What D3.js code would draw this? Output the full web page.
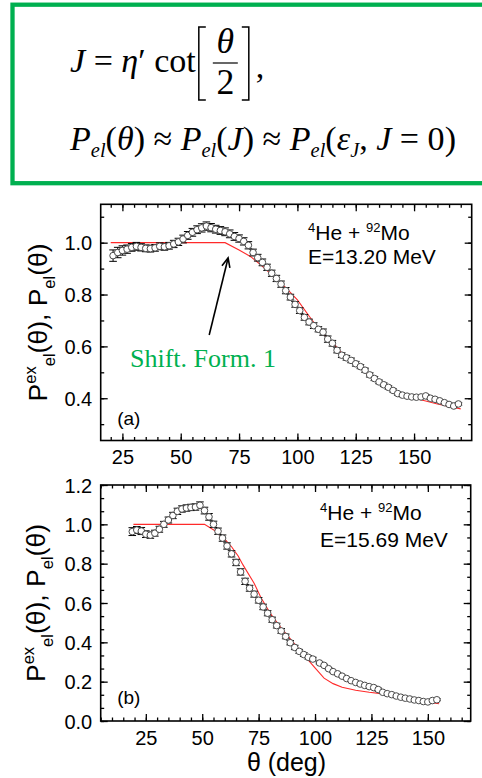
<!DOCTYPE html>
<html><head><meta charset="utf-8">
<script src="https://cdn.jsdelivr.net/npm/d3@7"></script>
<style>body{margin:0;background:#fff}svg{display:block}</style>
</head><body>
<svg id="c" width="482" height="778"></svg>
<script>
// ---------- DATA ----------
// Panel (a): 4He + 92Mo, E = 13.20 MeV
const thetaA = [21,23,25,27,29,31,33,35,37,39,41,43,45,47,49,51,53,55,57,59,61,63,65,67,69,71,73,75,77,79,81,83,85,87,89,91,93,95,97,99,101,103,105,107,109,111,113,115,117,119,121,123,125,127,129,131,133,135,137,139,141,143,145,147,149,151,153,155,157,159,161,163,165,167,169];
const expA = [0.950,0.962,0.970,0.975,0.982,0.986,0.982,0.978,0.977,0.980,
  0.986,0.984,0.988,0.995,1.003,1.014,1.028,1.040,1.050,1.057,
  1.064,1.058,1.052,1.047,1.042,1.034,1.024,1.016,1.005,0.990,
  0.962,0.942,0.924,0.905,0.882,0.862,0.840,0.815,0.790,0.762,
  0.738,0.712,0.694,0.680,0.666,0.655,0.628,0.612,0.585,0.566,
  0.556,0.546,0.533,0.522,0.508,0.490,0.476,0.463,0.452,0.442,
  0.430,0.418,0.412,0.408,0.405,0.404,0.405,0.409,0.400,0.396,
  0.390,0.383,0.376,0.370,0.378];
const errA = [0.022,0.020,0.018,0.016,0.015,0.015,0.014,0.013,0.013,0.013,
  0.013,0.013,0.013,0.014,0.014,0.015,0.015,0.015,0.015,0.016,
  0.016,0.016,0.015,0.015,0.015,0.015,0.015,0.014,0.014,0.014,
  0.013,0.013,0.013,0.012,0.012,0.012,0.012,0.012,0.011,0.011,
  0.011,0.011,0.011,0.011,0.010,0.012,0.012,0.011,0.010,0.009,
  0.009,0.009,0.009,0.008,0.008,0.008,0.008,0.007,0.007,0.007,
  0.006,0.006,0.006,0.005,0.005,0.005,0.005,0.005,0.005,0.005,
  0.005,0.005,0.005,0.005,0.005];
const thetaThA = [20,69,75,80,85,90,95,100,105,110,115,120,125,130,135,140,145,150,155,160,165,170];
const theoryA = [1.0,1.0,0.972,0.946,0.909,0.868,0.827,0.779,0.717,0.657,0.615,0.564,0.530,0.494,0.460,0.433,0.414,0.400,0.389,0.378,0.368,0.359];

// Panel (b): 4He + 92Mo, E = 15.69 MeV
const thetaB = [19,21,23,25,27,29,31,33,35,37,39,41,43,45,47,49,51,53,55,57,59,61,63,65,67,69,71,73,75,77,79,81,83,85,87,89,91,93,95,97,99,
  102,104,106,108,110,112,114,116,118,120,122,124,126,128,130,132,134,136,138,140,142,144,146,148,150,152,154];
const expB = [0.963,0.971,0.966,0.950,0.945,0.955,0.975,1.000,1.022,1.045,
  1.066,1.078,1.083,1.086,1.088,1.097,1.070,1.038,1.000,0.965,
  0.930,0.890,0.850,0.806,0.758,0.710,0.675,0.645,0.614,0.580,
  0.548,0.515,0.485,0.458,0.430,0.398,0.374,0.354,0.338,0.324,0.315,
  0.295,0.283,0.266,0.251,0.240,0.228,0.216,0.205,0.196,0.188,
  0.181,0.175,0.170,0.160,0.146,0.139,0.134,0.127,0.121,0.116,
  0.112,0.107,0.104,0.099,0.097,0.104,0.108];
const errB = [0.020,0.018,0.018,0.017,0.016,0.015,0.015,0.015,0.015,0.016,
  0.016,0.016,0.016,0.016,0.016,0.017,0.017,0.017,0.016,0.016,
  0.016,0.016,0.016,0.016,0.016,0.016,0.015,0.015,0.014,0.014,
  0.013,0.013,0.012,0.012,0.012,0.011,0.011,0.010,0.010,0.009,0.009,
  0.005,0.005,0.005,0.005,0.005,0.005,0.005,0.005,0.005,0.005,
  0.005,0.006,0.007,0.007,0.006,0.005,0.005,0.005,0.005,0.005,
  0.005,0.005,0.005,0.005,0.005,0.005,0.005];
const thetaThB = [19.5,51,56,60,63,66,68,73,76,80,85,90,95,100,104,108,112,118,124,130,135,140,145,150,155];
const theoryB = [1.0,1.0,0.965,0.925,0.886,0.838,0.795,0.700,0.628,0.550,0.472,0.405,0.336,0.270,0.218,0.190,0.172,0.156,0.146,0.138,0.126,0.113,0.103,0.095,0.088];

// Tick labels
const xTicks = [25,50,75,100,125,150];
const yTicksA = [0.4,0.6,0.8,1.0];
const yTicksB = [0.0,0.2,0.4,0.6,0.8,1.0,1.2];

// Annotation anchor points (data coords) for the arrow in panel (a)
const arrowTail = [62.2, 0.644];
const arrowTip = [70.3, 0.941];

// ---------- DRAW ----------
const SANS = "'Liberation Sans', Arial, Helvetica, sans-serif";
const SERIF = "'Liberation Serif', 'Times New Roman', serif";
const GREEN = "#00B050";
const svg = d3.select('#c');

function panel(cfg) {
  const g = svg.append('g');
  const x = d3.scaleLinear().domain(cfg.xDomain).range([cfg.left, cfg.right]);
  const y = d3.scaleLinear().domain(cfg.yDomain).range([cfg.bottom, cfg.top]);

  function styleAxis(sel) {
    sel.select('.domain').remove();
    sel.selectAll('.tick line').attr('stroke', '#000').attr('stroke-width', 1.3);
    sel.selectAll('text').attr('font-family', SANS).attr('font-size', 20).attr('fill', '#000');
  }
  // bottom
  g.append('g').attr('transform', `translate(0,${cfg.bottom})`)
    .call(d3.axisBottom(x).tickValues(cfg.xMinor).tickSize(-3.5).tickFormat('')).call(styleAxis);
  const bx = g.append('g').attr('transform', `translate(0,${cfg.bottom})`)
    .call(d3.axisBottom(x).tickValues(xTicks).tickSize(-7).tickFormat(d3.format('d'))).call(styleAxis);
  bx.selectAll('text').attr('y', 23.8).attr('dy', 0);
  // top
  g.append('g').attr('transform', `translate(0,${cfg.top})`)
    .call(d3.axisTop(x).tickValues(cfg.xMinor).tickSize(-3.5).tickFormat('')).call(styleAxis);
  g.append('g').attr('transform', `translate(0,${cfg.top})`)
    .call(d3.axisTop(x).tickValues(xTicks).tickSize(-7).tickFormat('')).call(styleAxis);
  // left
  g.append('g').attr('transform', `translate(${cfg.left},0)`)
    .call(d3.axisLeft(y).tickValues(cfg.yMinor).tickSize(-3.5).tickFormat('')).call(styleAxis);
  const ly = g.append('g').attr('transform', `translate(${cfg.left},0)`)
    .call(d3.axisLeft(y).tickValues(cfg.yMajor).tickSize(-7).tickFormat(d3.format('.1f'))).call(styleAxis);
  ly.selectAll('text').attr('x', -8.5).attr('dy', '0.36em');
  // right
  g.append('g').attr('transform', `translate(${cfg.right},0)`)
    .call(d3.axisRight(y).tickValues(cfg.yMinor).tickSize(-3.5).tickFormat('')).call(styleAxis);
  g.append('g').attr('transform', `translate(${cfg.right},0)`)
    .call(d3.axisRight(y).tickValues(cfg.yMajor).tickSize(-7).tickFormat('')).call(styleAxis);

  // frame
  g.append('rect').attr('x', cfg.left).attr('y', cfg.top)
    .attr('width', cfg.right - cfg.left).attr('height', cfg.bottom - cfg.top)
    .attr('fill', 'none').attr('stroke', '#000').attr('stroke-width', 1.6);

  // theory line
  const line = d3.line().x((d, i) => x(cfg.thTheta[i])).y(d => y(d));
  g.append('path').datum(cfg.theory).attr('d', line)
    .attr('fill', 'none').attr('stroke', '#ff2a2a').attr('stroke-width', 1.1);

  // error bars
  const pts = cfg.theta.map((t, i) => ({t, v: cfg.exp[i], e: cfg.err[i]}));
  const eb = g.append('g').attr('stroke', '#000').attr('stroke-width', 1);
  pts.forEach(p => {
    const cx = x(p.t), y1 = y(p.v - p.e), y2 = y(p.v + p.e);
    eb.append('line').attr('x1', cx).attr('x2', cx).attr('y1', y1).attr('y2', y2);
    eb.append('line').attr('x1', cx - 3.8).attr('x2', cx + 3.8).attr('y1', y1).attr('y2', y1);
    eb.append('line').attr('x1', cx - 3.8).attr('x2', cx + 3.8).attr('y1', y2).attr('y2', y2);
  });
  // markers
  g.append('g').selectAll('circle').data(pts).join('circle')
    .attr('cx', d => x(d.t)).attr('cy', d => y(d.v)).attr('r', 3.3)
    .attr('fill', '#fff').attr('stroke', '#4a4a4a').attr('stroke-width', 1);

  // y title
  const yt = g.append('text').attr('transform', `translate(${cfg.ytX},${(cfg.top + cfg.bottom) / 2}) rotate(-90)`)
    .attr('text-anchor', 'middle').attr('font-family', SANS).attr('font-size', 26.5).attr('fill', '#000');
  yt.append('tspan').text('P');
  yt.append('tspan').attr('font-size', 16.5).attr('dy', -11).text('ex');
  yt.append('tspan').attr('font-size', 16.5).attr('dy', 19).text('el');
  yt.append('tspan').attr('dy', -8).text('(θ),  P');
  yt.append('tspan').attr('font-size', 16.5).attr('dy', 8).text('el');
  yt.append('tspan').attr('dy', -8).text('(θ)');

  // reaction labels
  const r = g.append('text').attr('x', cfg.labX).attr('y', cfg.labY1)
    .attr('font-family', SANS).attr('font-size', 21).attr('fill', '#000');
  r.append('tspan').attr('font-size', 13).attr('dy', -8).text('4');
  r.append('tspan').attr('dy', 8).text('He + ');
  r.append('tspan').attr('font-size', 13).attr('dy', -8).text('92');
  r.append('tspan').attr('dy', 8).text('Mo');
  g.append('text').attr('x', cfg.labX).attr('y', cfg.labY2)
    .attr('font-family', SANS).attr('font-size', 21).attr('fill', '#000').text(cfg.energy);
  g.append('text').attr('x', cfg.left + 16.5).attr('y', cfg.tagY)
    .attr('font-family', SANS).attr('font-size', 19).attr('fill', '#000').text(cfg.tag);
  return {g, x, y};
}

const xMinorA = d3.range(20, 171, 5);
const xMinorB = d3.range(5, 170, 5);
const pa = panel({
  left: 100.7, right: 471.7, top: 204.3, bottom: 440.5,
  xDomain: [15.7, 174.7], yDomain: [0.237, 1.148],
  xMinor: xMinorA, yMajor: yTicksA, yMinor: [0.3,0.4,0.5,0.6,0.7,0.8,0.9,1.0,1.1],
  theta: thetaA, exp: expA, err: errA, thTheta: thetaThA, theory: theoryA,
  ytX: 47, labX: 308, labY1: 240, labY2: 263.5, energy: 'E=13.20 MeV', tag: '(a)', tagY: 425
});
const pb = panel({
  left: 100.7, right: 470.7, top: 485, bottom: 721,
  xDomain: [5, 169], yDomain: [0, 1.2],
  xMinor: xMinorB, yMajor: yTicksB, yMinor: d3.range(0, 18.5, 1).map(k => k * 0.2 / 3),
  theta: thetaB, exp: expB, err: errB, thTheta: thetaThB, theory: theoryB,
  ytX: 45, labX: 320, labY1: 520, labY2: 547, energy: 'E=15.69 MeV', tag: '(b)', tagY: 704
});

// x axis title (panel b)
svg.append('text').attr('x', 286.5).attr('y', 771).attr('text-anchor', 'middle')
  .attr('font-family', SANS).attr('font-size', 25).attr('fill', '#000').text('θ (deg)');

// Annotation in (a): green label + arrow
svg.append('text').attr('x', 130).attr('y', 367).attr('font-family', SERIF)
  .attr('font-size', 26).attr('fill', GREEN).text('Shift. Form. 1');
{
  const x0 = pa.x(arrowTail[0]), y0 = pa.y(arrowTail[1]);
  const x1 = pa.x(arrowTip[0]), y1 = pa.y(arrowTip[1]);
  const ang = Math.atan2(y1 - y0, x1 - x0), L = 10, w = 0.42;
  svg.append('line').attr('x1', x0).attr('y1', y0).attr('x2', x1).attr('y2', y1)
    .attr('stroke', '#000').attr('stroke-width', 1.6);
  const pA = [x1 - L * Math.cos(ang - w), y1 - L * Math.sin(ang - w)];
  const pB = [x1 - L * Math.cos(ang + w), y1 - L * Math.sin(ang + w)];
  svg.append('path').attr('d', `M${pA}L${x1},${y1}L${pB}`)
    .attr('fill', 'none').attr('stroke', '#000').attr('stroke-width', 1.6);
}

// ---------- Formula box ----------
svg.append('rect').attr('x', 12.5).attr('y', 4.7).attr('width', 480).attr('height', 178.5)
  .attr('fill', 'none').attr('stroke', GREEN).attr('stroke-width', 4.3);

function buildLine(parent, segs, x, y, F) {
  const t = parent.append('text').attr('x', x).attr('y', y)
    .attr('font-family', SERIF).attr('font-size', F).attr('fill', '#000');
  let shift = 0;
  segs.forEach(s => {
    const target = s.sub ? 0.2 * F : 0;
    const sp = t.append('tspan').text(s.t).attr('dy', target - shift);
    shift = target;
    if (s.i) sp.attr('font-style', 'italic');
    if (s.sub) sp.attr('font-size', 0.6 * F);
  });
  return t;
}
const line2 = [
  {t:'P', i:1}, {t:'el', i:1, sub:1}, {t:'('}, {t:'θ', i:1}, {t:')'}, {t:' ≈ '},
  {t:'P', i:1}, {t:'el', i:1, sub:1}, {t:'('}, {t:'J', i:1}, {t:')'}, {t:' ≈ '},
  {t:'P', i:1}, {t:'el', i:1, sub:1}, {t:'('}, {t:'ε', i:1}, {t:'J', i:1, sub:1}, {t:', '},
  {t:'J', i:1}, {t:' = '}, {t:'0'}, {t:')'}
];
const line1 = [{t:'J', i:1}, {t:' = '}, {t:'η', i:1}, {t:'′'}, {t:' cot'}];
const fg = svg.append('g');
let tmp = buildLine(fg, line2, 70, 150, 32);
const w2 = tmp.node().getComputedTextLength();
tmp.remove();
const F = 32 * 386 / w2;
buildLine(fg, line2, 70, 150, F);
const l1 = buildLine(fg, line1, 70, 72, F);
const bx0 = 70 + l1.node().getComputedTextLength() + 3;
// brackets and fraction
const br = fg.append('g').attr('fill', 'none').attr('stroke', '#000');
br.append('path').attr('d', `M${bx0 + 7},27H${bx0}V100H${bx0 + 7}`).attr('stroke-width', 1.5);
br.append('path').attr('d', `M${bx0 + 43},27H${bx0 + 50}V100H${bx0 + 43}`).attr('stroke-width', 1.5);
br.append('line').attr('x1', bx0 + 14).attr('x2', bx0 + 39).attr('y1', 63).attr('y2', 63).attr('stroke-width', 1.2);
fg.append('text').attr('x', bx0 + 26.5).attr('y', 53).attr('text-anchor', 'middle')
  .attr('font-family', SERIF).attr('font-style', 'italic').attr('font-size', F * 1.05).text('θ');
fg.append('text').attr('x', bx0 + 26.5).attr('y', 94).attr('text-anchor', 'middle')
  .attr('font-family', SERIF).attr('font-size', F * 1.05).text('2');
fg.append('text').attr('x', bx0 + 57).attr('y', 78)
  .attr('font-family', SERIF).attr('font-size', F).text(',');
</script>
</body></html>
